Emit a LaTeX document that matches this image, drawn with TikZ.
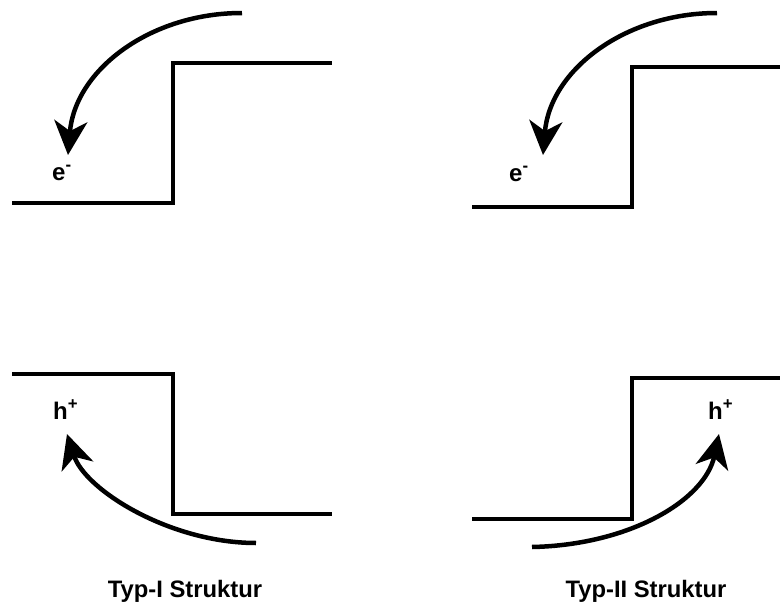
\documentclass[tikz,border=0pt]{standalone}
\usepackage{fontspec}
\setmainfont{Liberation Sans}
\usetikzlibrary{arrows.meta}
\begin{document}
\begin{tikzpicture}[x=1pt,y=-1pt,
  band/.style={line width=4pt,line join=miter},
  carrier/.style={line width=4.5pt,-{Stealth[length=34pt,width=33pt,inset=10pt]}},
  charge/.style={font=\fontsize{24}{28}\selectfont\bfseries,inner sep=0pt,anchor=base west},
  caption/.style={font=\fontsize{23.8}{28}\selectfont\bfseries,inner sep=0pt,anchor=base}]
\useasboundingbox (0,0) rectangle (780,605);

% Type I: conduction band edge (left)
\draw[band] (12,203) -- (173,203) -- (173,63) -- (332,63);
% Type I: valence band edge (left)
\draw[band] (12,374) -- (173,374) -- (173,514) -- (332,514);

% Type II: conduction band edge (right)
\draw[band] (472,207) -- (632,207) -- (632,67) -- (780,67);
% Type II: valence band edge (right)
\draw[band] (472,519) -- (632,519) -- (632,378) -- (780,378);

% carrier transfer arrows
\coordinate (eIa) at (242,13);  \coordinate (eIb) at (68,155);
\coordinate (hIa) at (256,543); \coordinate (hIb) at (67,434);
\coordinate (eIIa) at (717,13); \coordinate (eIIb) at (543,155);
\coordinate (hIIa) at (532,547); \coordinate (hIIb) at (719,434);

\draw[carrier] (eIa) .. controls (150,13) and (75,70) .. (eIb);
\draw[carrier] (hIa) .. controls (170,543) and (85,490) .. (hIb);
\draw[carrier] (eIIa) .. controls (625,13) and (550,70) .. (eIIb);
\draw[carrier] (hIIa) .. controls (630,545) and (705,500) .. (hIIb);

% charge labels
\node[charge] (eI)  at (52,180)  {e\textsuperscript{-}};
\node[charge] (hI)  at (53,419)  {h\textsuperscript{+}};
\node[charge] (eII) at (509,181) {e\textsuperscript{-}};
\node[charge] (hII) at (708,419) {h\textsuperscript{+}};

% captions
\node[caption] (capI)  at (185,597) {Typ-I Struktur};
\node[caption] (capII) at (646,597) {Typ-II Struktur};
\end{tikzpicture}
\end{document}
